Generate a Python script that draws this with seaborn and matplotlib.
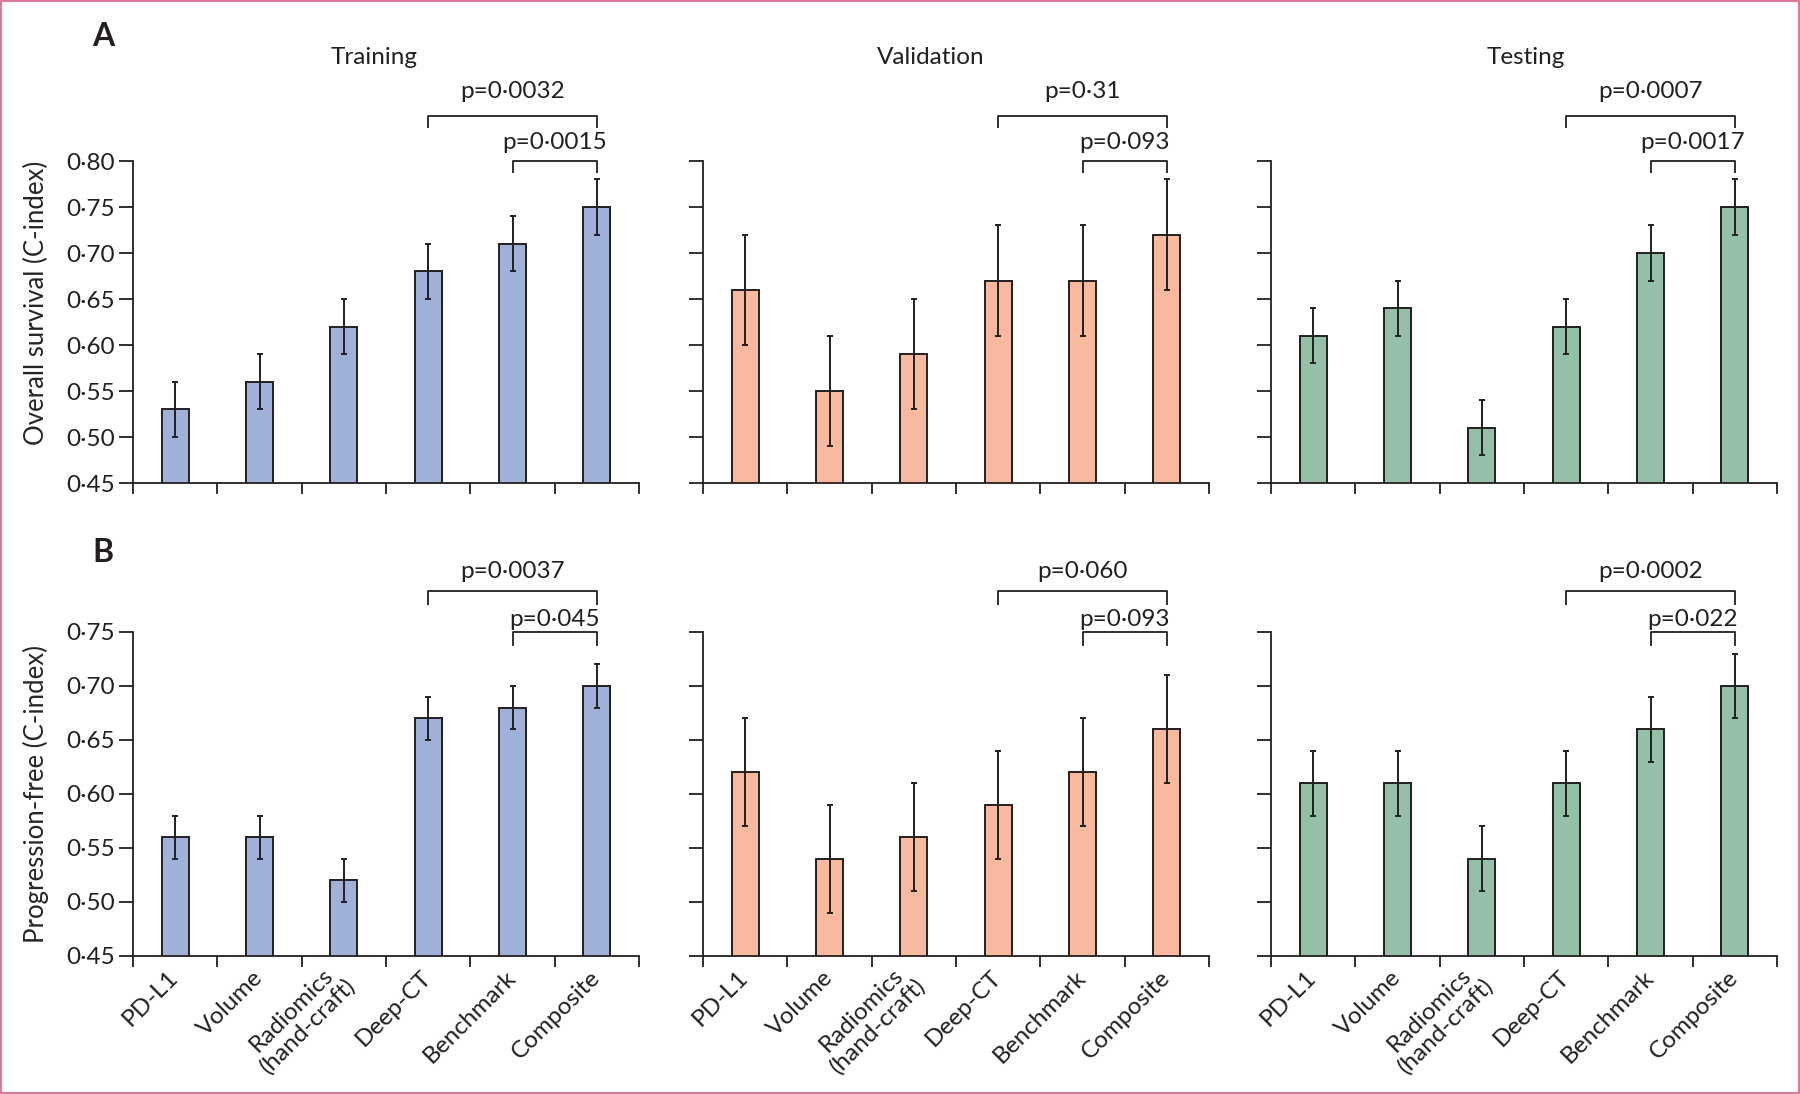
import numpy as np
import matplotlib
matplotlib.use("Agg")
import matplotlib.pyplot as plt
from matplotlib.patches import Rectangle
from matplotlib.ticker import FuncFormatter, FixedLocator
import seaborn as sns

# ---------------- data ----------------
categories = ["PD-L1", "Volume", "Radiomics\n(hand-craft)", "Deep-CT", "Benchmark", "Composite"]
cohorts = ["Training", "Validation", "Testing"]

os_training = [0.53, 0.56, 0.62, 0.68, 0.71, 0.75]
os_training_err = [0.03, 0.03, 0.03, 0.03, 0.03, 0.03]
os_validation = [0.66, 0.55, 0.59, 0.67, 0.67, 0.72]
os_validation_err = [0.06, 0.06, 0.06, 0.06, 0.06, 0.06]
os_testing = [0.61, 0.64, 0.51, 0.62, 0.70, 0.75]
os_testing_err = [0.03, 0.03, 0.03, 0.03, 0.03, 0.03]

pfs_training = [0.56, 0.56, 0.52, 0.67, 0.68, 0.70]
pfs_training_err = [0.02, 0.02, 0.02, 0.02, 0.02, 0.02]
pfs_validation = [0.62, 0.54, 0.56, 0.59, 0.62, 0.66]
pfs_validation_err = [0.05, 0.05, 0.05, 0.05, 0.05, 0.05]
pfs_testing = [0.61, 0.61, 0.54, 0.61, 0.66, 0.70]
pfs_testing_err = [0.03, 0.03, 0.03, 0.03, 0.03, 0.03]

os_p_big = ["p=0·0032", "p=0·31", "p=0·0007"]      # Deep-CT vs Composite
os_p_small = ["p=0·0015", "p=0·093", "p=0·0017"]   # Benchmark vs Composite
pfs_p_big = ["p=0·0037", "p=0·060", "p=0·0002"]
pfs_p_small = ["p=0·045", "p=0·093", "p=0·022"]

row_labels = ["A", "B"]
ylabels = ["Overall survival (C-index)", "Progression-free (C-index)"]
yticks_os = [0.45, 0.50, 0.55, 0.60, 0.65, 0.70, 0.75, 0.80]
yticks_pfs = [0.45, 0.50, 0.55, 0.60, 0.65, 0.70, 0.75]

colors = ["#a0b1d9", "#f9b99f", "#93c0a7"]
ink = "#231f20"

# ---------------- style ----------------
sns.set_style("ticks")
plt.rcParams["font.family"] = ["Lato", "DejaVu Sans"]
plt.rcParams["font.size"] = 17
plt.rcParams["axes.linewidth"] = 1.3
plt.rcParams["axes.edgecolor"] = ink
plt.rcParams["text.color"] = ink
plt.rcParams["xtick.color"] = ink
plt.rcParams["ytick.color"] = ink

fig = plt.figure(figsize=(18, 10.94), dpi=100)

col_left = [133 / 1800, 703 / 1800, 1271 / 1800]
col_w = 506 / 1800
row_bottom = [1 - 483 / 1094, 1 - 956 / 1094]
row_h = [322 / 1094, 324 / 1094]

rows = [
    dict(vals=[os_training, os_validation, os_testing],
         errs=[os_training_err, os_validation_err, os_testing_err],
         pbig=os_p_big, psmall=os_p_small, ylim=(0.45, 0.80), yticks=yticks_os,
         big_y=0.849, small_y=0.800, leg=0.013, big_t=0.876, small_t=0.820,
         ylab_y=0.56),
    dict(vals=[pfs_training, pfs_validation, pfs_testing],
         errs=[pfs_training_err, pfs_validation_err, pfs_testing_err],
         pbig=pfs_p_big, psmall=pfs_p_small, ylim=(0.45, 0.75), yticks=yticks_pfs,
         big_y=0.788, small_y=0.750, leg=0.013, big_t=0.806, small_t=0.762,
         ylab_y=0.5),
]

fmt = FuncFormatter(lambda v, p: f"{v:.2f}".replace(".", "·"))

for r, row in enumerate(rows):
    for c in range(3):
        ax = fig.add_axes([col_left[c], row_bottom[r], col_w, row_h[r]])
        vals = row["vals"][c]
        errs = row["errs"][c]
        sns.barplot(x=categories, y=vals, ax=ax, color=colors[c], saturation=1,
                    width=0.32, edgecolor=ink, linewidth=1.4, errorbar=None)
        ax.errorbar(np.arange(len(categories)), vals, yerr=errs, fmt="none",
                    ecolor=ink, elinewidth=1.4, capsize=2.4, capthick=1.4, zorder=5)
        ax.set_xlim(-0.5, len(categories) - 0.5)
        ax.set_ylim(*row["ylim"])
        ax.set_yticks(row["yticks"])
        ax.yaxis.set_major_formatter(fmt)
        ax.tick_params(axis="y", length=10, width=1.3, labelsize=17.5, pad=3)
        ax.xaxis.set_minor_locator(FixedLocator(np.arange(-0.5, len(categories), 1.0)))
        ax.tick_params(axis="x", which="minor", length=8, width=1.3, direction="out")
        ax.tick_params(axis="x", which="major", length=0, labelsize=17.5, pad=13)
        sns.despine(ax=ax)
        ax.set_xlabel("")
        if r == 1:
            plt.setp(ax.get_xticklabels(), rotation=45, ha="right", va="center",
                     rotation_mode="anchor", multialignment="center", linespacing=1.1)
        else:
            ax.set_xticklabels([])
        if c == 0:
            ax.set_ylabel(ylabels[r], fontsize=18.5)
            ax.yaxis.set_label_coords(-0.166, row["ylab_y"])
        else:
            ax.set_yticklabels([])
            ax.set_ylabel("")

        # significance brackets
        leg = row["leg"]
        for (x0, x1, yb, yt, txt) in [(3, 5, row["big_y"], row["big_t"], row["pbig"][c]),
                                      (4, 5, row["small_y"], row["small_t"], row["psmall"][c])]:
            ax.plot([x0, x0, x1, x1], [yb - leg, yb, yb, yb - leg], color=ink,
                    lw=1.3, clip_on=False, solid_capstyle="butt")
            ax.text((x0 + x1) / 2, yt, txt, ha="center", va="center", fontsize=17.5,
                    clip_on=False)

# column titles
for c, (name, xc) in enumerate(zip(cohorts, [374, 931, 1526])):
    fig.text(xc / 1800, 1 - 57 / 1094, name, ha="center", va="center", fontsize=17.5)

# panel letters
fig.text(103 / 1800, 1 - 37 / 1094, row_labels[0], ha="center", va="center",
         fontsize=23, fontweight="bold")
fig.text(103 / 1800, 1 - 552 / 1094, row_labels[1], ha="center", va="center",
         fontsize=23, fontweight="bold")

# pink frame
fig.add_artist(Rectangle((0, 0), 1, 1, transform=fig.transFigure, fill=False,
                         edgecolor="#dc7b9a", lw=3, zorder=10))

fig.savefig("out.png", dpi=100)
